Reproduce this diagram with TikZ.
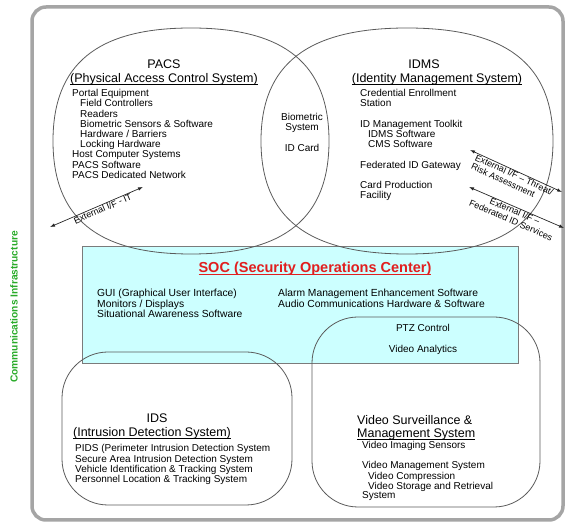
\documentclass[tikz,border=0pt]{standalone}
\usepackage{fontspec}
\setmainfont{Liberation Sans}
\usetikzlibrary{arrows.meta}
\definecolor{socfill}{RGB}{204,255,255}
\definecolor{socred}{RGB}{225,30,30}
\definecolor{infragreen}{RGB}{40,170,40}
\definecolor{outline}{RGB}{90,90,90}
\definecolor{framegray}{RGB}{165,165,165}

% underline that sits close to the baseline, ignoring descenders
\newcommand{\baseul}[1]{\underline{\smash{#1}}}

% a squarish oval: half-width #1, half-height #2
\tikzset{
  pics/softoval/.style 2 args={code={
    \draw[ovalline] (#1,0) .. controls (#1,0.68*#2) and (0.68*#1,#2) .. (0,#2)
      .. controls (-0.68*#1,#2) and (-#1,0.68*#2) .. (-#1,0)
      .. controls (-#1,-0.68*#2) and (-0.68*#1,-#2) .. (0,-#2)
      .. controls (0.68*#1,-#2) and (#1,-0.68*#2) .. (#1,0) -- cycle;}},
}

\begin{document}
\begin{tikzpicture}[x=1pt,y=-1pt,
  ovalline/.style={draw=outline, line width=0.8pt},
  framebox/.style={draw=framegray, line width=3.5pt, rounded corners=14pt},
  socbox/.style={draw=outline!80, fill=socfill, line width=0.9pt},
  roundbox/.style={ovalline, rounded corners=46pt},
  head/.style={font=\fontsize{12.5}{13}\selectfont, anchor=base, inner sep=0pt},
  body/.style={font=\fontsize{10}{10.2}\selectfont, align=left, anchor=north west, inner sep=0pt},
  extlink/.style={draw=black!85, line width=0.7pt,
    {Latex[length=5pt,width=3.5pt]}-{Latex[length=5pt,width=3.5pt]}},
  extlabel/.style={font=\fontsize{9}{9.6}\selectfont, sloped, below, inner sep=0.5pt, pos=0.5},
]
\useasboundingbox (0,0) rectangle (566,529);

% outer frame
\draw[framebox] (32,7) rectangle (563,520);

% side label
\node[font=\fontsize{10.2}{11}\selectfont\bfseries, text=infragreen, rotate=90, inner sep=0pt]
  (infra) at (14,307) {Communications Infrastructure};

% security operations center panel
\draw[socbox] (82,246) rectangle (518,363);

% overlapping system outlines
\pic at (191,141) {softoval={138}{113}};
\pic at (407,141) {softoval={146}{113}};
\draw[roundbox] (62,352) rectangle (292,505);
\draw[roundbox] (312,317) rectangle (540,507);

% PACS
\node[head] (pacsT) at (164,69) {PACS};
\node[head] (pacsS) at (164,83) {\baseul{(Physical Access Control System)}};
\node[body] (pacsB) at (72,89.3) {Portal Equipment\\
\hspace*{8pt}Field Controllers\\
\hspace*{8pt}Readers\\
\hspace*{8pt}Biometric Sensors \& Software\\
\hspace*{8pt}Hardware / Barriers\\
\hspace*{8pt}Locking Hardware\\
Host Computer Systems\\
PACS Software\\
PACS Dedicated Network};

% shared items
\node[body, align=center, anchor=north] (shared) at (302,113.3) {Biometric\\System\\[10.2pt]ID Card};

% IDMS
\node[head] (idmsT) at (424,68.5) {IDMS};
\node[head] (idmsS) at (437,83) {\baseul{(Identity Management System)}};
\node[body] (idmsB) at (360,89.3) {Credential Enrollment\\
Station\\[10.2pt]
ID Management Toolkit\\
\hspace*{8pt}IDMS Software\\
\hspace*{8pt}CMS Software\\[10.2pt]
Federated ID Gateway\\[10.2pt]
Card Production\\
Facility};

% external interfaces
\coordinate (itA) at (50,227);
\coordinate (itB) at (143,187);
\draw[extlink] (itA) -- (itB) node[extlabel, pos=0.55] (itL) {External I/F - IT};

\coordinate (trA) at (470,150);
\coordinate (trB) at (562,192);
\draw[extlink] (trA) -- (trB) node[extlabel, align=left] (trL) {External I/F – Threat/\\Risk Assessment};

\coordinate (fdA) at (469,187);
\coordinate (fdB) at (564,228);
\draw[extlink] (fdA) -- (fdB) node[extlabel, align=center] (fdL) {External I/F –\\Federated ID Services};

% SOC
\node[font=\fontsize{14.5}{15}\selectfont\bfseries, text=socred, anchor=base, inner sep=0pt]
  (socT) at (315,273) {\baseul{SOC (Security Operations Center)}};
\node[body, font=\fontsize{10.3}{10.5}\selectfont] (socL) at (97,289.3) {GUI (Graphical User Interface)\\
Monitors / Displays\\
Situational Awareness Software};
\node[body, font=\fontsize{10.3}{10.5}\selectfont] (socR) at (278,289.3) {Alarm Management Enhancement Software\\
Audio Communications Hardware \& Software};
\node[body, anchor=base] (ptz) at (423,331.6) {PTZ Control};
\node[body, anchor=base] (analytics) at (423,352.6) {Video Analytics};

% IDS
\node[head] (idsT) at (157,422.5) {IDS};
\node[head] (idsS) at (152,436.5) {\baseul{(Intrusion Detection System)}};
\node[body, font=\fontsize{10}{10.3}\selectfont] (idsB) at (75,444.3) {PIDS (Perimeter Intrusion Detection System\\
Secure Area Intrusion Detection System\\
Vehicle Identification \& Tracking System\\
Personnel Location \& Tracking System};

% video surveillance
\node[head, anchor=base west] (vidT) at (357,424.5) {Video Surveillance \&};
\node[head, anchor=base west] (vidS) at (357,438) {\baseul{Management System}};
\node[body] (vidA) at (362,441.3) {Video Imaging Sensors};
\node[body, font=\fontsize{10}{9.2}\selectfont] (vidB) at (362,461.3) {Video Management System\\
\hspace*{6pt}Video Compression\\
\hspace*{6pt}Video Storage and Retrieval\\
System};

\end{tikzpicture}
\end{document}
